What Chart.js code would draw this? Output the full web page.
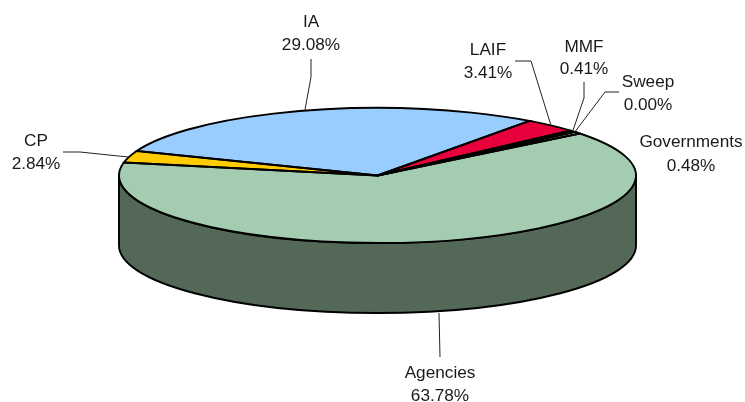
<!DOCTYPE html>
<html>
<head>
<meta charset="utf-8">
<style>
  html, body { margin: 0; padding: 0; background: #fff; }
  canvas { display: block; }
</style>
<script src="https://cdn.jsdelivr.net/npm/chart.js@4"></script>
</head>
<body>
<canvas id="pie" width="745" height="402"></canvas>
<script>
// Values
var categories = ['Agencies', 'CP', 'IA', 'LAIF', 'MMF', 'Sweep', 'Governments'];
var shares = [63.78, 2.84, 29.08, 3.41, 0.41, 0.00, 0.48];
var topColors = ['#A3CCB0', '#FFCC00', '#99CCFF', '#E8003C', '#111111', '#FFFFFF', '#FFFF99'];
var sideColors = ['#546858', '#806600', '#4D6680', '#74001E', '#090909', '#808080', '#80804D'];

// Where the flattened disc sits on the page
var disc = { x: 377.5, y: 175.5, rx: 258.5, ry: 67.5, depth: 70 };
var firstSliceAngle = 51.5;

// Label text positions (centre x, first and second baseline) and leader elbows
var labelBoxes = {
  Agencies: { x: 440, y1: 378, y2: 401, leader: [[440, 357]], rim: [439, 313] },
  CP: { x: 36, y1: 146, y2: 169, leader: [[63, 152], [80, 152]], rim: [128, 157] },
  IA: { x: 311, y1: 27, y2: 50, leader: [[311, 59], [311, 77]] },
  LAIF: { x: 488, y1: 55, y2: 78, leader: [[515, 61], [531, 61]] },
  MMF: { x: 584, y1: 52, y2: 74, leader: [[584, 82], [584, 98]] },
  Sweep: { x: 648, y1: 87, y2: 110, leader: [[619, 92], [605, 92]] },
  Governments: { x: 691, y1: 147, y2: 171, leader: [] }
};

function rimPoint(angle) {
  return [disc.x + disc.rx * Math.cos(angle), disc.y + disc.ry * Math.sin(angle)];
}

var discPlugin = {
  id: 'disc',
  beforeDatasetsDraw: function (chart) {
    var ctx = chart.ctx;
    var arcs = chart.getDatasetMeta(0).data;

    // Side wall, only the part of each slice that faces the viewer
    arcs.forEach(function (arc, i) {
      var a = Math.max(arc.startAngle, 0);
      var b = Math.min(arc.endAngle, Math.PI);
      if (b <= a) return;
      ctx.beginPath();
      ctx.ellipse(disc.x, disc.y, disc.rx, disc.ry, 0, a, b);
      ctx.ellipse(disc.x, disc.y + disc.depth, disc.rx, disc.ry, 0, b, a, true);
      ctx.closePath();
      ctx.fillStyle = sideColors[i];
      ctx.fill();
      ctx.lineWidth = 1.9;
      ctx.strokeStyle = '#000';
      ctx.stroke();
    });

    // Squash the round pie into the ellipse
    var first = arcs[0];
    ctx.save();
    ctx.translate(disc.x, disc.y);
    ctx.scale(disc.rx / first.outerRadius, disc.ry / first.outerRadius);
    ctx.translate(-first.x, -first.y);
  },
  afterDatasetsDraw: function (chart) {
    var ctx = chart.ctx;
    ctx.restore();
    var arcs = chart.getDatasetMeta(0).data;

    // Slice outlines, stroked here so the line keeps an even width
    arcs.forEach(function (arc) {
      ctx.beginPath();
      ctx.moveTo(disc.x, disc.y);
      ctx.ellipse(disc.x, disc.y, disc.rx, disc.ry, 0, arc.startAngle, arc.endAngle);
      ctx.closePath();
      ctx.lineWidth = 1.9;
      ctx.strokeStyle = '#000';
      ctx.stroke();
    });

    // Leaders and labels
    ctx.font = '17.2px "Liberation Sans", Arial, sans-serif';
    ctx.textAlign = 'center';
    ctx.textBaseline = 'alphabetic';
    arcs.forEach(function (arc, i) {
      var box = labelBoxes[categories[i]];
      if (box.leader.length) {
        var mid = (arc.startAngle + arc.endAngle) / 2;
        var start = box.rim || rimPoint(mid);
        ctx.beginPath();
        ctx.moveTo(start[0], start[1]);
        box.leader.slice().reverse().forEach(function (p) {
          ctx.lineTo(p[0], p[1]);
        });
        ctx.lineWidth = 1;
        ctx.strokeStyle = '#222';
        ctx.stroke();
      }
      ctx.fillStyle = '#1a1a1a';
      ctx.fillText(categories[i], box.x, box.y1);
      ctx.fillText(shares[i].toFixed(2) + '%', box.x, box.y2);
    });
  }
};

var pieChart = new Chart(document.getElementById('pie').getContext('2d'), {
  type: 'pie',
  data: {
    labels: categories,
    datasets: [{
      data: shares,
      backgroundColor: topColors,
      borderWidth: 0
    }]
  },
  options: {
    responsive: false,
    animation: false,
    rotation: firstSliceAngle,
    layout: { padding: 0 },
    plugins: {
      legend: { display: false },
      tooltip: { enabled: false }
    }
  },
  plugins: [discPlugin]
});
</script>
</body>
</html>
